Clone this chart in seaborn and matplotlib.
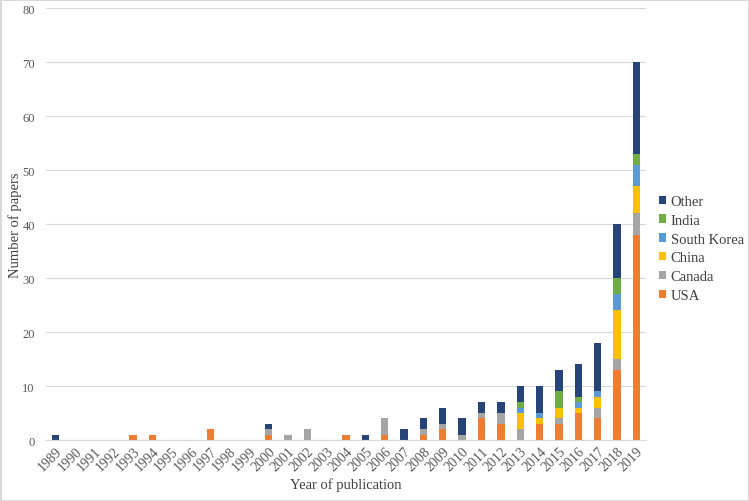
import matplotlib
matplotlib.use("Agg")
import matplotlib.pyplot as plt
import seaborn as sns
import pandas as pd
import numpy as np
from matplotlib.patches import Patch

years = [str(y) for y in range(1989, 2020)]
#            89 90 91 92 93 94 95 96 97 98 99 00 01 02 03 04 05 06 07 08 09 10 11 12 13 14 15 16 17 18 19
usa =       [0, 0, 0, 0, 1, 1, 0, 0, 2, 0, 0, 1, 0, 0, 0, 1, 0, 1, 0, 1, 2, 0, 4, 3, 0, 3, 3, 5, 4, 13, 38]
canada =    [0, 0, 0, 0, 0, 0, 0, 0, 0, 0, 0, 1, 1, 2, 0, 0, 0, 3, 0, 1, 1, 1, 1, 2, 2, 0, 1, 0, 2, 2, 4]
china =     [0, 0, 0, 0, 0, 0, 0, 0, 0, 0, 0, 0, 0, 0, 0, 0, 0, 0, 0, 0, 0, 0, 0, 0, 3, 1, 2, 1, 2, 9, 5]
s_korea =   [0, 0, 0, 0, 0, 0, 0, 0, 0, 0, 0, 0, 0, 0, 0, 0, 0, 0, 0, 0, 0, 0, 0, 0, 1, 1, 0, 1, 1, 3, 4]
india =     [0, 0, 0, 0, 0, 0, 0, 0, 0, 0, 0, 0, 0, 0, 0, 0, 0, 0, 0, 0, 0, 0, 0, 0, 1, 0, 3, 1, 0, 3, 2]
other =     [1, 0, 0, 0, 0, 0, 0, 0, 0, 0, 0, 1, 0, 0, 0, 0, 1, 0, 2, 2, 3, 3, 2, 2, 3, 5, 4, 6, 9, 10, 17]

series = ["USA", "Canada", "China", "South Korea", "India", "Other"]
colors = {
    "USA": "#ED7D31",
    "Canada": "#A5A5A5",
    "China": "#FFC000",
    "South Korea": "#5B9BD5",
    "India": "#70AD47",
    "Other": "#264478",
}

df = pd.DataFrame({"Year": years, "USA": usa, "Canada": canada, "China": china,
                   "South Korea": s_korea, "India": india, "Other": other})
cum = df[series].cumsum(axis=1)
cum["Year"] = df["Year"]

sns.set_style("white")
plt.rcParams['font.family'] = ['Liberation Serif', 'DejaVu Serif']

fig = plt.figure(figsize=(7.49, 5.02), dpi=100)
fig.patch.set_edgecolor("#d9d9d9")
fig.patch.set_linewidth(1.0)
ax = fig.add_axes([0.0614, 0.1215, 0.8011, 0.8605])

# draw cumulative totals from the top series down so they stack
for s in reversed(series):
    sns.barplot(data=cum, x="Year", y=s, order=years, color=colors[s],
                width=0.38, linewidth=0, saturation=1, ax=ax, zorder=3)

ax.set_ylim(0, 80)
ax.set_yticks(range(0, 81, 10))
ax.set_xlim(-0.5, len(years) - 0.5)
ax.yaxis.grid(True, color="#d9d9d9", linewidth=0.8, zorder=0)
ax.set_axisbelow(True)
for side in ["top", "right", "left"]:
    ax.spines[side].set_visible(False)
ax.spines["bottom"].set_color("#d9d9d9")
ax.spines["bottom"].set_zorder(4)
ax.tick_params(axis="both", length=0, colors="#595959")
ax.tick_params(axis="y", pad=8, labelsize=9)
ax.tick_params(axis="x", pad=3, labelsize=10)
plt.setp(ax.get_xticklabels(), rotation=45, ha="right", rotation_mode="anchor")

ax.set_xlabel("Year of publication", fontsize=10.5, color="#404040", labelpad=3)
ax.set_ylabel("Number of papers", fontsize=10.5, color="#404040", labelpad=0.5)

handles = [Patch(facecolor=colors[s], edgecolor="none", label=s) for s in reversed(series)]
leg = fig.legend(handles=handles, loc="center left", bbox_to_anchor=(0.880, 0.503),
                 frameon=False, fontsize=10.5, handlelength=0.5, handleheight=0.5,
                 handletextpad=0.3, labelspacing=0.4, borderaxespad=0, borderpad=0)
for t in leg.get_texts():
    t.set_color("#404040")

plt.savefig("out.png", dpi=100, edgecolor=fig.get_edgecolor())
